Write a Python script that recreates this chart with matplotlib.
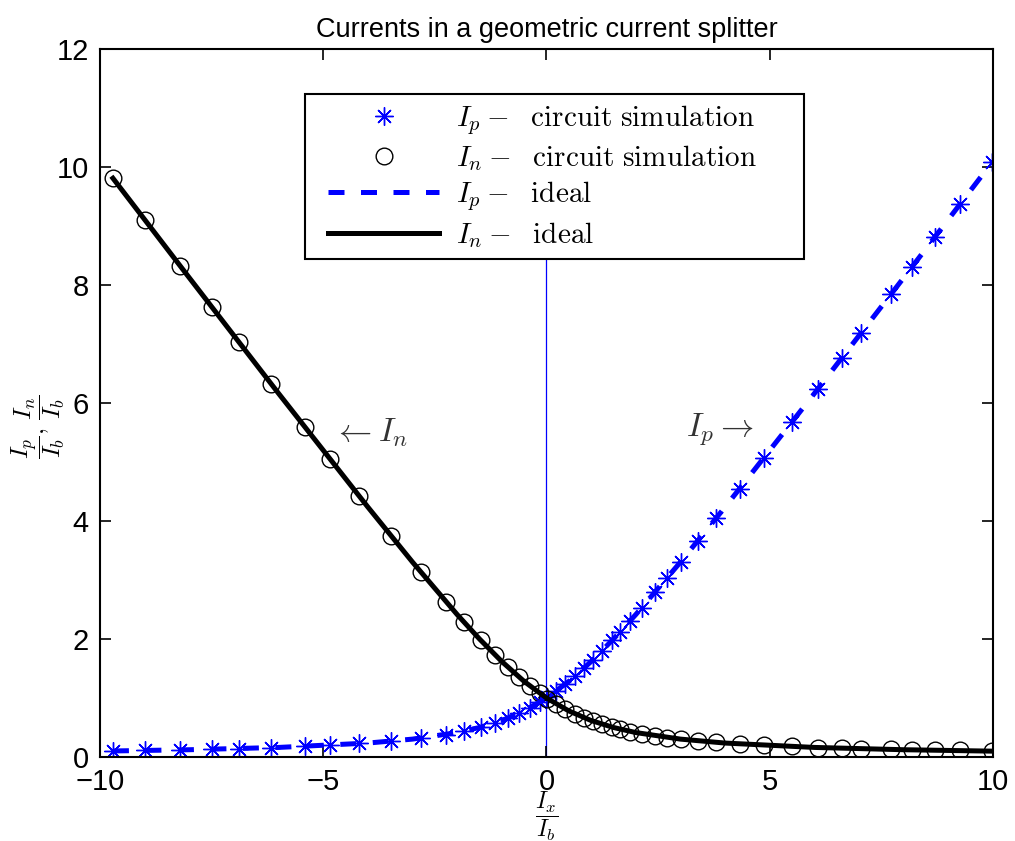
import matplotlib
matplotlib.use("Agg")
import matplotlib.pyplot as plt
from matplotlib.lines import Line2D
from matplotlib.legend_handler import HandlerLine2D

plt.rcParams["font.family"] = ["Liberation Sans", "DejaVu Sans"]
plt.rcParams["mathtext.fontset"] = "cm"

# Normalised input current Ix/Ib at each simulated operating point
sim_ix = [-9.71, -8.99, -8.21, -7.49, -6.89, -6.17, -5.41, -4.85, -4.20, -3.48,
          -2.81, -2.25, -1.85, -1.47, -1.15, -0.86, -0.62, -0.37, -0.15, 0.01,
          0.21, 0.41, 0.64, 0.84, 1.04, 1.24, 1.47, 1.65, 1.87, 2.14,
          2.43, 2.70, 3.01, 3.39, 3.80, 4.33, 4.87, 5.50, 6.08, 6.62,
          7.04, 7.71, 8.19, 8.70, 9.26, 9.98]
# Circuit simulation: Ip/Ib and In/Ib
sim_ip = [0.10, 0.11, 0.12, 0.13, 0.14, 0.16, 0.18, 0.20, 0.23, 0.27,
          0.32, 0.38, 0.44, 0.51, 0.58, 0.66, 0.74, 0.83, 0.93, 1.01,
          1.11, 1.23, 1.37, 1.50, 1.65, 1.80, 1.98, 2.12, 2.30, 2.53,
          2.79, 3.03, 3.31, 3.66, 4.05, 4.55, 5.07, 5.68, 6.24, 6.77,
          7.18, 7.84, 8.31, 8.81, 9.37, 10.08]
sim_in = [9.81, 9.10, 8.33, 7.62, 7.03, 6.33, 5.59, 5.05, 4.43, 3.75,
          3.13, 2.63, 2.29, 1.98, 1.73, 1.52, 1.36, 1.20, 1.08, 0.99,
          0.90, 0.82, 0.73, 0.66, 0.61, 0.56, 0.51, 0.47, 0.43, 0.39,
          0.36, 0.33, 0.30, 0.27, 0.25, 0.22, 0.20, 0.18, 0.16, 0.15,
          0.14, 0.13, 0.12, 0.11, 0.11, 0.10]

# Ideal translinear splitter characteristic
ideal_ix = [-9.71, -8.0, -6.0, -4.0, -3.0, -2.0, -1.5, -1.0, -0.5, 0.0,
            0.5, 1.0, 1.5, 2.0, 3.0, 4.0, 6.0, 8.0, 9.98]
ideal_ip = [0.102, 0.123, 0.162, 0.236, 0.303, 0.414, 0.500, 0.618, 0.781, 1.000,
            1.281, 1.618, 2.000, 2.414, 3.303, 4.236, 6.162, 8.123, 10.08]
ideal_in = [9.81, 8.123, 6.162, 4.236, 3.303, 2.414, 2.000, 1.618, 1.281, 1.000,
            0.781, 0.618, 0.500, 0.414, 0.303, 0.236, 0.162, 0.123, 0.099]

labels = [r"$I_p -\ \ \mathrm{circuit\ simulation}$",
          r"$I_n -\ \ \mathrm{circuit\ simulation}$",
          r"$I_p -\ \ \mathrm{ideal}$",
          r"$I_n -\ \ \mathrm{ideal}$"]

fig = plt.figure(figsize=(10.15, 8.41), dpi=100)
ax = fig.add_axes([0.0985, 0.0999, 0.8798, 0.8418])

ax.plot(sim_ix, sim_ip, linestyle="none", marker=(8, 2, 0), markersize=13,
        markeredgewidth=1.0, color="#0000ff", label=labels[0])
ax.plot(sim_ix, sim_in, linestyle="none", marker="o", markersize=12,
        markerfacecolor="none", markeredgewidth=1.0, color="black", label=labels[1])
ax.plot(ideal_ix, ideal_ip, color="#0000ff", linewidth=3.6,
        dashes=(3.2, 3.3), label=labels[2])
ax.plot(ideal_ix, ideal_in, color="black", linewidth=3.6, label=labels[3])
# Zero-input reference line (upper end sits behind the legend)
ax.axvline(0, ymin=0, ymax=10 / 12, color="#0000ff", linewidth=0.9, zorder=1)

ax.text(-3.95, 5.5, r"$\leftarrow I_n$", fontsize=24, color="#333333",
        ha="center", va="center")
ax.text(3.89, 5.55, r"$I_p \rightarrow$", fontsize=24, color="#333333",
        ha="center", va="center")

ax.set_xlim(-10, 10)
ax.set_ylim(0, 12)
ax.set_xticks([-10, -5, 0, 5, 10])
ax.set_yticks([0, 2, 4, 6, 8, 10, 12])
ax.tick_params(direction="in", length=8, width=1.2, labelsize=21,
               top=True, right=True, pad=8)
for sp in ax.spines.values():
    sp.set_linewidth(1.5)

ax.set_title("Currents in a geometric current splitter", fontsize=19.5, pad=9)
ax.set_xlabel(r"$\dfrac{I_x}{I_b}$", fontsize=17, va="center")
ax.xaxis.set_label_coords(0.5, -0.084)
ax.set_ylabel(r"$\dfrac{I_p}{I_b},\,\dfrac{I_n}{I_b}$", fontsize=18, va="center")
ax.yaxis.set_label_coords(-0.069, 0.466)

leg = ax.legend(loc="upper left", bbox_to_anchor=(0.2296, 0.706, 0.5584, 0.23),
                mode="expand", borderaxespad=0, fontsize=21, numpoints=1,
                handlelength=4.31, handletextpad=0.55, labelspacing=0.22,
                borderpad=0.3, fancybox=False, framealpha=1, edgecolor="black",
                handler_map={Line2D: HandlerLine2D(xpad=0.48)})
leg.get_frame().set_linewidth(1.5)

fig.savefig("out.png", dpi=100)
